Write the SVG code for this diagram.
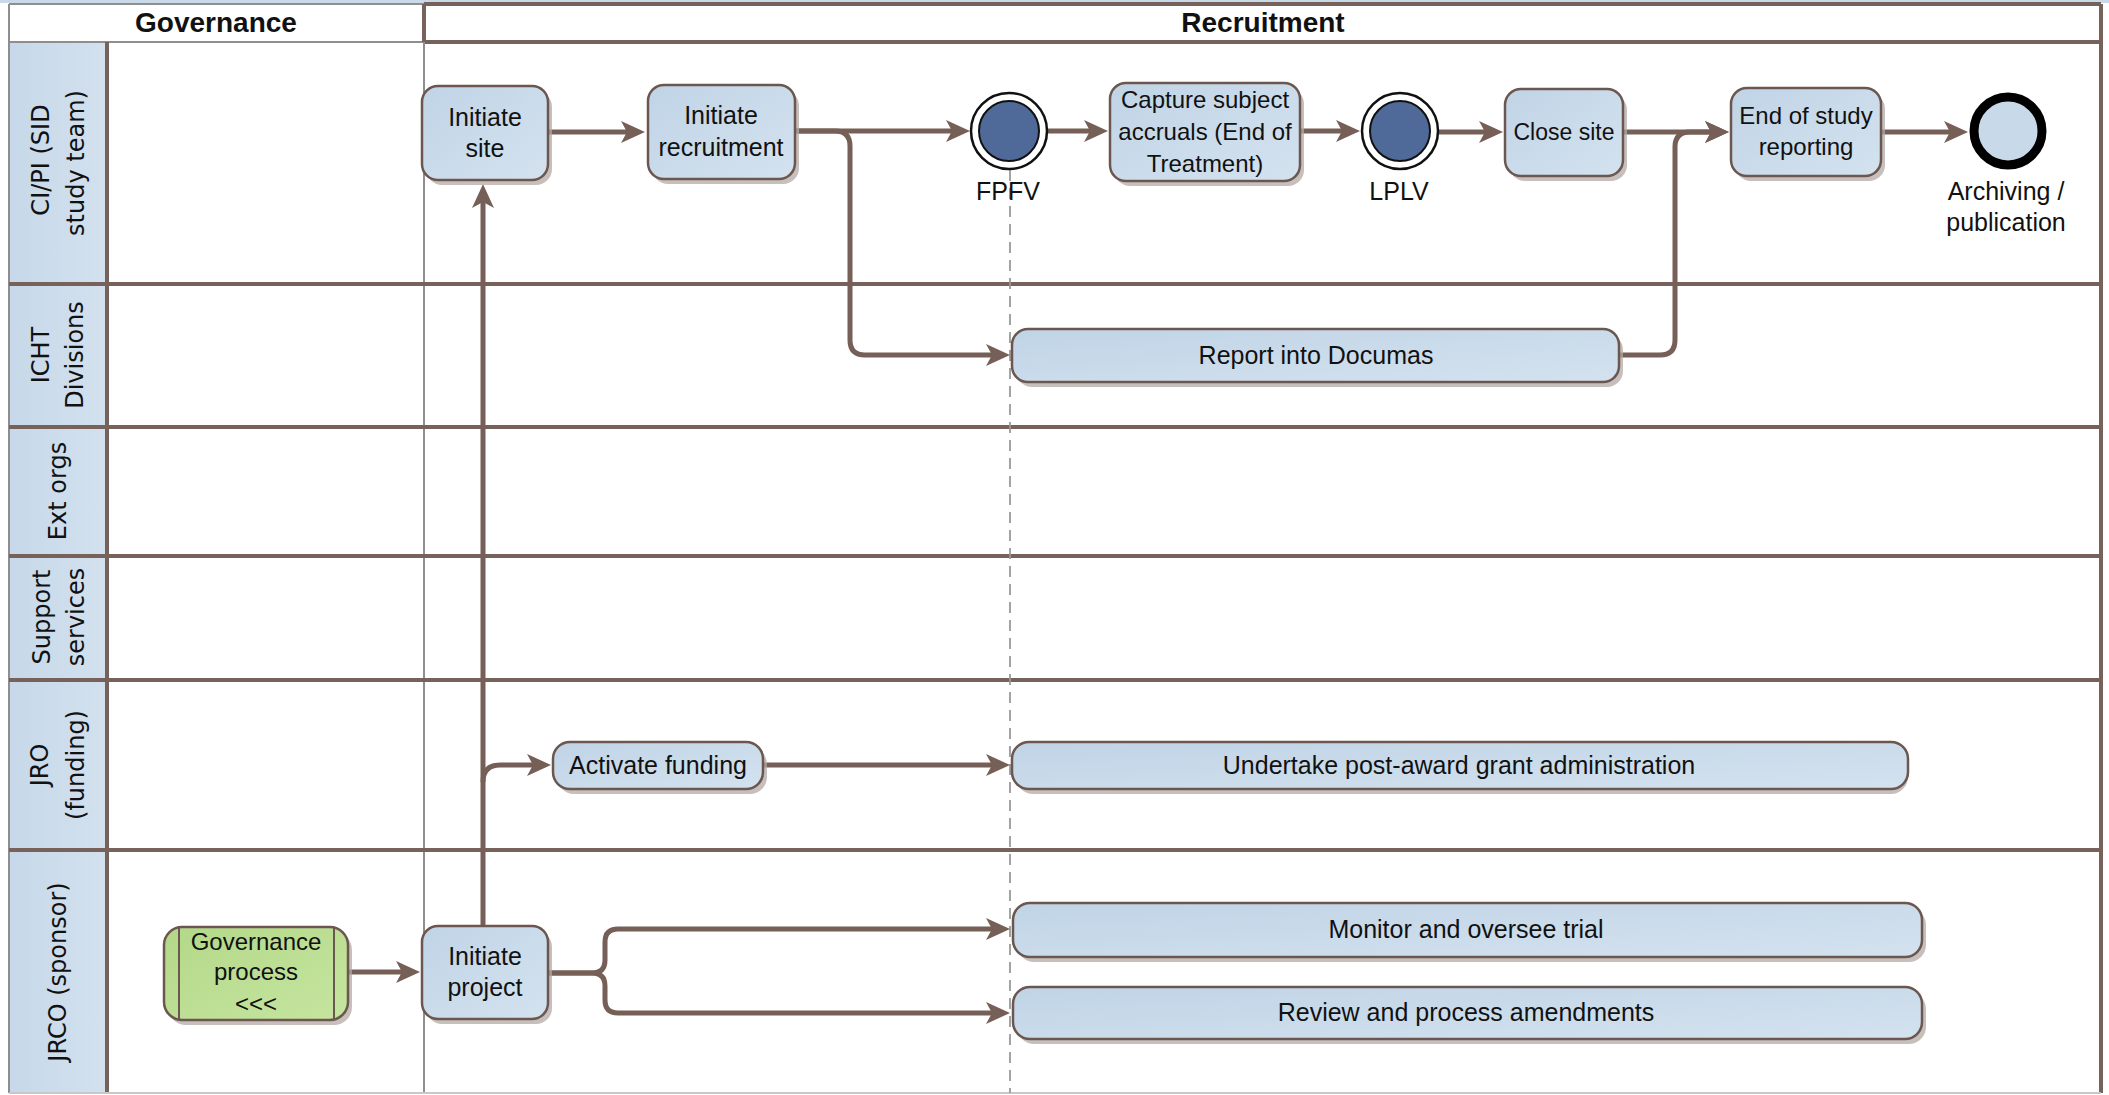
<svg xmlns="http://www.w3.org/2000/svg" width="2109" height="1095" viewBox="0 0 2109 1095">
<style>
.lane{stroke:#76625a;stroke-width:4;fill:none}
.thin{stroke:#8e8e8e;stroke-width:2;fill:none}
.conn{fill:none;stroke:#765f56;stroke-width:5;stroke-linejoin:round;marker-end:url(#arr)}
.box{fill:url(#ng);stroke:#6b574f;stroke-width:2.5}
.sh{fill:#b3aaa5;opacity:0.75}
.t{font-family:"Liberation Sans",Arial,sans-serif;font-size:25px;fill:#111;text-anchor:middle}
.s{font-size:24px}
.xs{font-size:23px}
.lbl{font-family:"DejaVu Sans",Verdana,sans-serif;font-size:24px;fill:#111;text-anchor:middle}
.hdr{font-family:"Liberation Sans",Arial,sans-serif;font-size:28px;font-weight:bold;fill:#111;text-anchor:middle}
</style>
<defs>
<linearGradient id="ng" x1="0" y1="0" x2="1" y2="1">
<stop offset="0" stop-color="#c0d4e6"/><stop offset="1" stop-color="#d4e2ef"/>
</linearGradient>
<linearGradient id="lg" x1="0" y1="0" x2="1" y2="0">
<stop offset="0" stop-color="#c6d8e9"/><stop offset="1" stop-color="#d3e1ee"/>
</linearGradient>
<linearGradient id="gg" x1="0" y1="0" x2="1" y2="1">
<stop offset="0" stop-color="#b3d888"/><stop offset="1" stop-color="#c6e5a0"/>
</linearGradient>
<marker id="arr" markerUnits="userSpaceOnUse" markerWidth="24" markerHeight="24" viewBox="0 0 24 24" refX="12" refY="12" orient="auto">
<path d="M0,1 L24,12 L0,23 L6,12 Z" fill="#765f56"/>
</marker>
</defs>

<g id="pool">
<rect x="0" y="0" width="2109" height="3" fill="#c9d9e8"/>
<rect x="9" y="4" width="2092" height="1089" fill="#ffffff"/>
<rect x="9" y="42" width="98" height="1051" fill="url(#lg)"/>
<line class="thin" x1="9" y1="4" x2="424" y2="4"/>
<line class="lane" x1="424" y1="4" x2="2101" y2="4"/>
<line class="thin" x1="9" y1="42" x2="424" y2="42"/>
<line class="lane" x1="424" y1="42" x2="2101" y2="42"/>
<line class="thin" x1="9" y1="4" x2="9" y2="1093"/>
<line class="lane" x1="424" y1="4" x2="424" y2="42"/>
<line class="thin" x1="424" y1="42" x2="424" y2="1093"/>
<line class="lane" x1="107" y1="42" x2="107" y2="1093"/>
<line class="lane" x1="2101" y1="4" x2="2101" y2="1093"/>
<line x1="9" y1="1093" x2="2101" y2="1093" stroke="#c8c8c8" stroke-width="2"/>
<line class="lane" x1="9" y1="284" x2="2101" y2="284"/>
<line class="lane" x1="9" y1="427" x2="2101" y2="427"/>
<line class="lane" x1="9" y1="556" x2="2101" y2="556"/>
<line class="lane" x1="9" y1="680" x2="2101" y2="680"/>
<line class="lane" x1="9" y1="850" x2="2101" y2="850"/>
<text class="hdr" x="216" y="32">Governance</text>
<text class="hdr" x="1263" y="32">Recruitment</text>
<text class="lbl" transform="translate(49,160) rotate(-90)">CI/PI (SID</text>
<text class="lbl" transform="translate(84,163) rotate(-90)">study team)</text>
<text class="lbl" transform="translate(49,355) rotate(-90)">ICHT</text>
<text class="lbl" transform="translate(83,355) rotate(-90)">Divisions</text>
<text class="lbl" transform="translate(66,491) rotate(-90)">Ext orgs</text>
<text class="lbl" transform="translate(50,617) rotate(-90)">Support</text>
<text class="lbl" transform="translate(84,617) rotate(-90)">services</text>
<text class="lbl" transform="translate(48,765) rotate(-90)">JRO</text>
<text class="lbl" transform="translate(84,765) rotate(-90)">(funding)</text>
<text class="lbl" transform="translate(66,972) rotate(-90)">JRCO (sponsor)</text>
<line x1="1010" y1="170" x2="1010" y2="1093" stroke="#9a9a9a" stroke-width="1.8" stroke-dasharray="11,7"/>
</g>

<g id="connectors">
<path class="conn" d="M548,132 H633"/>
<path class="conn" d="M795,131 H958"/>
<path class="conn" d="M795,131 H835 Q850,131 850,146 V340 Q850,355 865,355 H998"/>
<path class="conn" d="M1048,131 H1096"/>
<path class="conn" d="M1300,131 H1348"/>
<path class="conn" d="M1439,132 H1491"/>
<path class="conn" d="M1623,132 H1717"/>
<path class="conn" d="M1619,355 H1660 Q1675,355 1675,340 V147 Q1675,132 1690,132 H1717"/>
<path class="conn" d="M1881,132 H1956"/>
<path class="conn" d="M348,972 H408"/>
<path class="conn" d="M483,926 V196"/>
<path class="conn" d="M483,782 Q483,765 500,765 H539"/>
<path class="conn" d="M763,765 H998"/>
<path class="conn" d="M548,973 H592 Q605,973 605,960 V942 Q605,929 618,929 H998"/>
<path class="conn" d="M548,973 H592 Q605,973 605,986 V1000 Q605,1013 618,1013 H998"/>
</g>

<g id="initiate-site">
<rect class="sh" x="426" y="91" width="126" height="94" rx="16"/>
<rect class="box" x="422" y="86" width="126" height="94" rx="16"/>
<text class="t" x="485" y="126">Initiate</text>
<text class="t" x="485" y="157">site</text>
</g>
<g id="initiate-recruitment">
<rect class="sh" x="652" y="90" width="147" height="94" rx="16"/>
<rect class="box" x="648" y="85" width="147" height="94" rx="16"/>
<text class="t" x="721" y="124">Initiate</text>
<text class="t" x="721" y="156">recruitment</text>
</g>
<g id="fpfv">
<circle cx="1009" cy="131" r="38" fill="#ffffff" stroke="#111" stroke-width="2.5"/>
<circle cx="1009" cy="131" r="30" fill="#4f6999" stroke="#111" stroke-width="2"/>
<text class="t" x="1008" y="200">FPFV</text>
</g>
<g id="capture-accruals">
<rect class="sh" x="1114" y="88" width="190" height="98" rx="16"/>
<rect class="box" x="1110" y="83" width="190" height="98" rx="16"/>
<text class="t s" x="1205" y="108">Capture subject</text>
<text class="t s" x="1205" y="140">accruals (End of</text>
<text class="t s" x="1205" y="172">Treatment)</text>
</g>
<g id="lplv">
<circle cx="1400" cy="131" r="38" fill="#ffffff" stroke="#111" stroke-width="2.5"/>
<circle cx="1400" cy="131" r="30" fill="#4f6999" stroke="#111" stroke-width="2"/>
<text class="t" x="1399" y="200">LPLV</text>
</g>
<g id="close-site">
<rect class="sh" x="1509" y="94" width="118" height="87" rx="16"/>
<rect class="box" x="1505" y="89" width="118" height="87" rx="16"/>
<text class="t xs" x="1564" y="140">Close site</text>
</g>
<g id="end-of-study">
<rect class="sh" x="1735" y="93" width="150" height="88" rx="16"/>
<rect class="box" x="1731" y="88" width="150" height="88" rx="16"/>
<text class="t s" x="1806" y="124">End of study</text>
<text class="t s" x="1806" y="155">reporting</text>
</g>
<g id="archiving">
<circle cx="2008" cy="131" r="34" fill="#c8d9ea" stroke="#000" stroke-width="9"/>
<text class="t" x="2006" y="200">Archiving /</text>
<text class="t" x="2006" y="231">publication</text>
</g>
<g id="report-documas">
<rect class="sh" x="1016" y="334" width="607" height="53" rx="16"/>
<rect class="box" x="1012" y="329" width="607" height="53" rx="16"/>
<text class="t" x="1316" y="364">Report into Documas</text>
</g>
<g id="activate-funding">
<rect class="sh" x="557" y="747" width="210" height="47" rx="17"/>
<rect class="box" x="553" y="742" width="210" height="47" rx="17"/>
<text class="t" x="658" y="774">Activate funding</text>
</g>
<g id="undertake-grant">
<rect class="sh" x="1016" y="747" width="892" height="47" rx="17"/>
<rect class="box" x="1012" y="742" width="896" height="47" rx="17"/>
<text class="t" x="1459" y="774">Undertake post-award grant administration</text>
</g>
<g id="governance-process">
<rect class="sh" x="168" y="932" width="184" height="93" rx="18"/>
<rect x="164" y="927" width="184" height="93" rx="18" fill="url(#gg)" stroke="#6b574f" stroke-width="2.5"/>
<line x1="179" y1="928" x2="179" y2="1019" stroke="#6b574f" stroke-width="2"/>
<line x1="334" y1="928" x2="334" y2="1019" stroke="#6b574f" stroke-width="2"/>
<text class="t s" x="256" y="950">Governance</text>
<text class="t s" x="256" y="980">process</text>
<text class="t s" x="256" y="1012">&lt;&lt;&lt;</text>
</g>
<g id="initiate-project">
<rect class="sh" x="426" y="931" width="126" height="93" rx="16"/>
<rect class="box" x="422" y="926" width="126" height="93" rx="16"/>
<text class="t" x="485" y="965">Initiate</text>
<text class="t" x="485" y="996">project</text>
</g>
<g id="monitor-trial">
<rect class="sh" x="1017" y="908" width="909" height="54" rx="17"/>
<rect class="box" x="1013" y="903" width="909" height="54" rx="17"/>
<text class="t" x="1466" y="938">Monitor and oversee trial</text>
</g>
<g id="review-amendments">
<rect class="sh" x="1017" y="992" width="909" height="52" rx="17"/>
<rect class="box" x="1013" y="987" width="909" height="52" rx="17"/>
<text class="t" x="1466" y="1021">Review and process amendments</text>
</g>
</svg>
